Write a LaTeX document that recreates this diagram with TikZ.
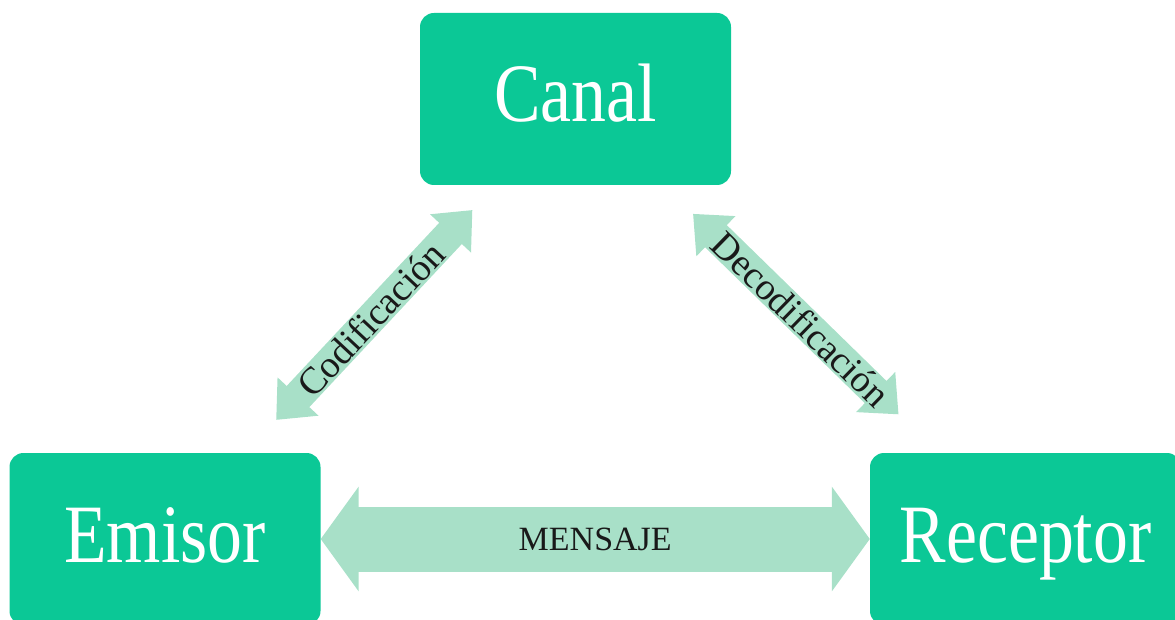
\documentclass[tikz,border=0pt]{standalone}
\usepackage{fontspec}
\setmainfont{Liberation Serif}
\newfontfamily\boxfont[FakeStretch=0.84]{Liberation Serif}
\usetikzlibrary{arrows.meta}
\usetikzlibrary{positioning}
\definecolor{boxgreen}{RGB}{11,200,150}
\definecolor{linkgreen}{RGB}{168,224,200}
\definecolor{lbltext}{RGB}{25,25,25}

\begin{document}
\begin{tikzpicture}[x=1pt, y=1pt,
	box/.style={fill=boxgreen, text=white, rounded corners=14pt, minimum width=311pt, minimum height=172pt, inner sep=0pt, text height=55pt, text depth=9pt, font=\boxfont\fontsize{83}{90}\selectfont},
	wide/.style={draw=linkgreen, line width=65pt, {Triangle[length=38pt, width=103pt]}-{Triangle[length=38pt, width=103pt]}},
	diag/.style={draw=linkgreen, line width=31pt, {Triangle[length=32pt, width=54pt]}-{Triangle[length=32pt, width=54pt]}},
	lbl/.style={text=lbltext, inner sep=0pt}]
	\useasboundingbox (0,0) rectangle (1175,619);
	\node[box] (canal) at (575.5,520) {Canal};
	\node[box] (emisor) at (165,80) {Emisor};
	\node[box] (receptor) at (1025.5,80) {Receptor};
	\draw[wide] (emisor) -- node[lbl, font=\fontsize{34}{40}\selectfont] {MENSAJE} (receptor);
	\draw[diag, shorten <=45pt, shorten >=34pt] (emisor) -- node[lbl, sloped, font=\fontsize{38}{44}\selectfont] {Codificación} (canal);
	\draw[diag, shorten <=41pt, shorten >=55pt] (canal) -- node[lbl, sloped, font=\fontsize{38}{44}\selectfont] {Decodificación} (receptor);
\end{tikzpicture}
\end{document}
